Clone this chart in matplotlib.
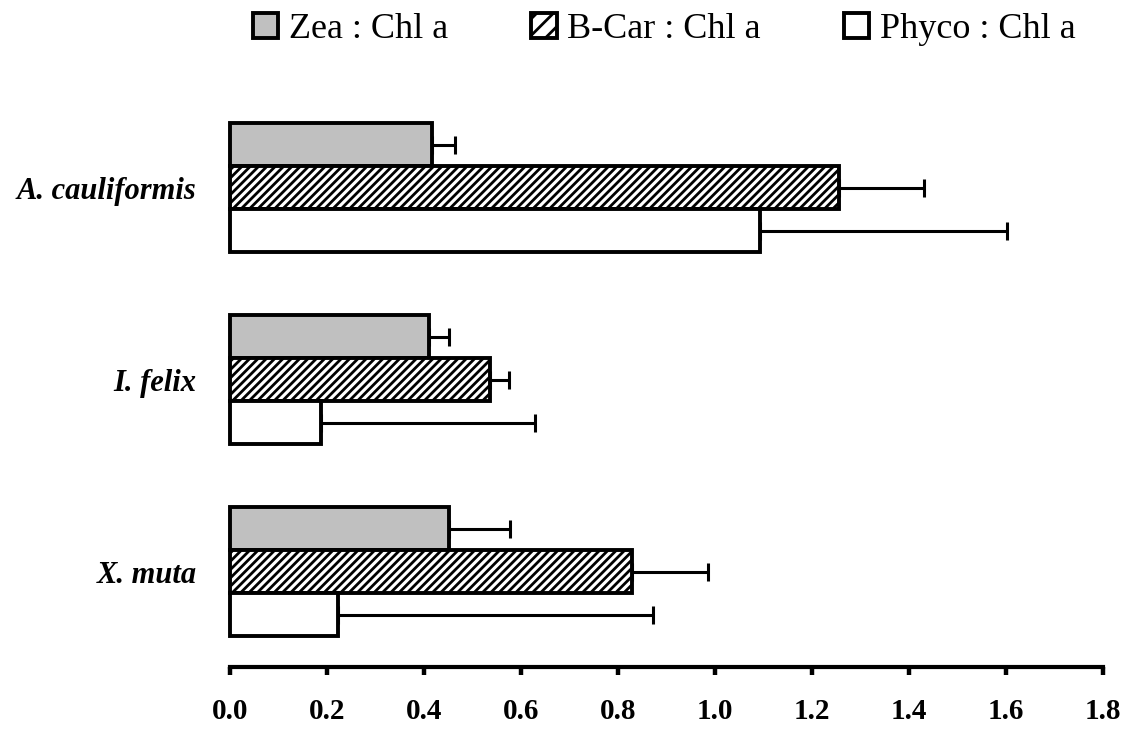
import numpy as np
import matplotlib.pyplot as plt
from matplotlib.patches import Patch

plt.rcParams['font.family'] = ['Liberation Serif', 'DejaVu Serif']
plt.rcParams['hatch.linewidth'] = 2.0

# Данные (снизу вверх)
species = ['X. muta', 'I. felix', 'A. cauliformis']
zea = [0.452, 0.410, 0.416]
zea_err = [0.126, 0.042, 0.048]
bcar = [0.829, 0.536, 1.256]
bcar_err = [0.157, 0.039, 0.175]
phyco = [0.223, 0.188, 1.093]
phyco_err = [0.649, 0.441, 0.509]
xticks = [0.0, 0.2, 0.4, 0.6, 0.8, 1.0, 1.2, 1.4, 1.6, 1.8]

fig = plt.figure(figsize=(11.3, 7.31), dpi=100)
ax = fig.add_axes([0.2035, 0.0875, 0.7725, 0.7866])

y = np.arange(len(species))
h = 0.224
series = [
    (zea, zea_err, y + h, '#c0c0c0', None),
    (bcar, bcar_err, y, 'white', '////'),
    (phyco, phyco_err, y - h, 'white', None),
]
for vals, errs, pos, fc, hatch in series:
    ax.errorbar(vals, pos, xerr=[np.zeros(len(vals)), errs], fmt='none',
                ecolor='black', elinewidth=2.2, capsize=6.5, capthick=2.2, zorder=1)
    bars = ax.barh(pos, vals, height=h, edgecolor='black', linewidth=2.8,
                   facecolor=fc, hatch=hatch, zorder=2)
    for b in bars:
        b.set_clip_on(False)

ax.set_xlim(0, 1.8)
ax.set_ylim(-0.497, 2.5)
ax.set_xticks(xticks)
ax.set_xticklabels([f'{v:.1f}' for v in xticks], fontsize=21, fontweight='bold')
ax.set_yticks(y)
ax.set_yticklabels(species, fontsize=22, fontweight='bold', fontstyle='italic')
ax.tick_params(axis='y', length=0, pad=24)
ax.tick_params(axis='x', direction='out', length=6, width=3.2, pad=16)
for s in ['top', 'right', 'left']:
    ax.spines[s].set_visible(False)
ax.spines['bottom'].set_linewidth(3)

handles = [
    Patch(facecolor='#c0c0c0', edgecolor='black', linewidth=2.8, label='Zea : Chl a'),
    Patch(facecolor='white', edgecolor='black', linewidth=2.8, hatch='//', label='B-Car : Chl a'),
    Patch(facecolor='white', edgecolor='black', linewidth=2.8, label='Phyco : Chl a'),
]
fig.legend(handles=handles, loc='upper center', bbox_to_anchor=(0.588, 1.027), ncol=3,
           frameon=False, fontsize=26, handlelength=0.7, handleheight=0.7,
           handletextpad=0.3, columnspacing=2.3)

plt.savefig('out.png', dpi=100)
